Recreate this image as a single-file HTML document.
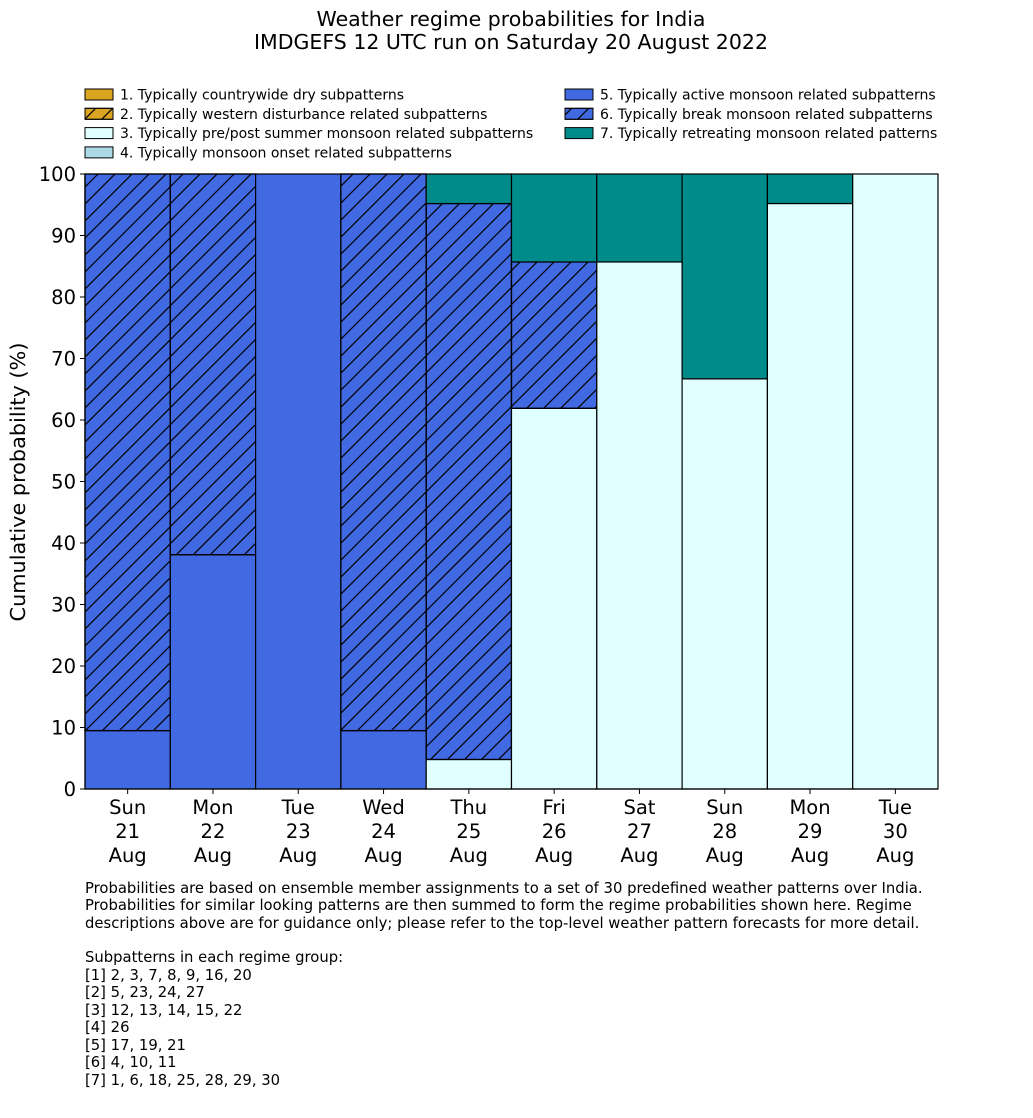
<!DOCTYPE html>
<html><head><meta charset="utf-8"><style>
body{margin:0;background:#fff;font-family:"DejaVu Sans","Liberation Sans",sans-serif;}
</style></head><body>
<svg width="1033" height="1114" xmlns="http://www.w3.org/2000/svg">
<defs>
<pattern id="hatch" patternUnits="userSpaceOnUse" width="17" height="17">
<path d="M-1,18 L18,-1 M-5,5 L5,-5 M12,22 L22,12" stroke="#000" stroke-width="1.2"/>
</pattern>
</defs>
<g id="title" font-size="20.5" text-anchor="middle" fill="#000">
<text x="511" y="26">Weather regime probabilities for India</text>
<text x="511" y="49">IMDGEFS 12 UTC run on Saturday 20 August 2022</text>
</g>
<g id="legend" font-size="14"></g>
<g id="bars"></g>
<g id="axes"></g>
<text transform="translate(25,482) rotate(-90)" text-anchor="middle" font-size="20.8">Cumulative probability (%)</text>
<g font-size="14.8" fill="#000">
<text x="85" y="893">Probabilities are based on ensemble member assignments to a set of 30 predefined weather patterns over India.</text>
<text x="85" y="910">Probabilities for similar looking patterns are then summed to form the regime probabilities shown here. Regime</text>
<text x="85" y="928">descriptions above are for guidance only; please refer to the top-level weather pattern forecasts for more detail.</text>
<text x="85" y="962">Subpatterns in each regime group:</text>
<text x="85" y="980">[1] 2, 3, 7, 8, 9, 16, 20</text>
<text x="85" y="997">[2] 5, 23, 24, 27</text>
<text x="85" y="1015">[3] 12, 13, 14, 15, 22</text>
<text x="85" y="1032">[4] 26</text>
<text x="85" y="1050">[5] 17, 19, 21</text>
<text x="85" y="1067">[6] 4, 10, 11</text>
<text x="85" y="1085">[7] 1, 6, 18, 25, 28, 29, 30</text>
</g>
</svg>
<script>
const days=["Sun","Mon","Tue","Wed","Thu","Fri","Sat","Sun","Mon","Tue"];
const dates=["21","22","23","24","25","26","27","28","29","30"];
const regimeLabels=["1. Typically countrywide dry subpatterns","2. Typically western disturbance related subpatterns","3. Typically pre/post summer monsoon related subpatterns","4. Typically monsoon onset related subpatterns","5. Typically active monsoon related subpatterns","6. Typically break monsoon related subpatterns","7. Typically retreating monsoon related patterns"];
const r1=[0,0,0,0,0,0,0,0,0,0];
const r2=[0,0,0,0,0,0,0,0,0,0];
const r3=[0,0,0,0,4.8,61.9,85.7,66.7,95.2,100];
const r4=[0,0,0,0,0,0,0,0,0,0];
const r5=[9.5,38.1,100,9.5,0,0,0,0,0,0];
const r6=[90.5,61.9,0,90.5,90.4,23.8,0,0,0,0];
const r7=[0,0,0,0,4.8,14.3,14.3,33.3,4.8,0];
const yTicks=[0,10,20,30,40,50,60,70,80,90,100];
const series=[r1,r2,r3,r4,r5,r6,r7];
const fills=["#DAA520","#DAA520","#E0FFFF","#ADD8E6","#4169E1","#4169E1","#008B8B"];
const hatched=[false,true,false,false,false,true,false];
const NS="http://www.w3.org/2000/svg";
const X0=85,X1=938,Y0=789,Y1=174;
const bw=(X1-X0)/days.length;
const y=v=>Y0-(Y1-Y0)*-v/100;
const x=i=>X0+i*bw;
function mk(t,a,p){const e=document.createElementNS(NS,t);for(const k in a)e.setAttribute(k,a[k]);p.appendChild(e);return e;}
const bars=document.getElementById('bars');
days.forEach((d,i)=>{let cum=0;series.forEach((s,k)=>{const v=s[i];if(v<=0)return;
const r=mk('rect',{x:x(i),y:y(Math.min(cum+v,100)),width:bw,height:y(cum)-y(Math.min(cum+v,100)),fill:fills[k],stroke:'#000','stroke-width':1.2},bars);


if(hatched[k]){const h=mk('rect',{x:x(i),y:y(Math.min(cum+v,100)),width:bw,height:y(cum)-y(Math.min(cum+v,100)),fill:'url(#hatch)',stroke:'#000','stroke-width':1.2},bars);

}
cum+=v;});});
const ax=document.getElementById('axes');
mk('line',{x1:X0,x2:X0,y1:Y1,y2:Y0,stroke:'#000','stroke-width':1.2},ax);
mk('line',{x1:X0,x2:X1,y1:Y0,y2:Y0,stroke:'#000','stroke-width':1.2},ax);
yTicks.forEach(t=>{mk('line',{x1:X0-5,x2:X0,y1:y(t),y2:y(t),stroke:'#000'},ax);
const tx=mk('text',{x:X0-9,y:y(t)+7,'text-anchor':'end','font-size':19.5},ax);tx.textContent=t;

});
days.forEach((d,i)=>{const cx=x(i)+bw/2;mk('line',{x1:cx,x2:cx,y1:Y0,y2:Y0+5,stroke:'#000'},ax);
[d,dates[i],"Aug"].forEach((s,j)=>{const tx=mk('text',{x:cx,y:814+j*24,'text-anchor':'middle','font-size':19.5},ax);tx.textContent=s;

});});
const lg=document.getElementById('legend');
regimeLabels.forEach((l,k)=>{const col=k<4?0:1,row=k<4?k:k-4;const lx=col?565:85,ly=89+row*19.3;
const g=mk('g',{},lg);


mk('rect',{x:lx,y:ly,width:28,height:11,fill:fills[k],stroke:'#000'},g);
if(hatched[k])mk('rect',{x:lx,y:ly,width:28,height:11,fill:'url(#hatch)',stroke:'#000'},g);
const t=mk('text',{x:lx+35,y:ly+10.5},g);t.textContent=l;});
</script>
</body></html>
